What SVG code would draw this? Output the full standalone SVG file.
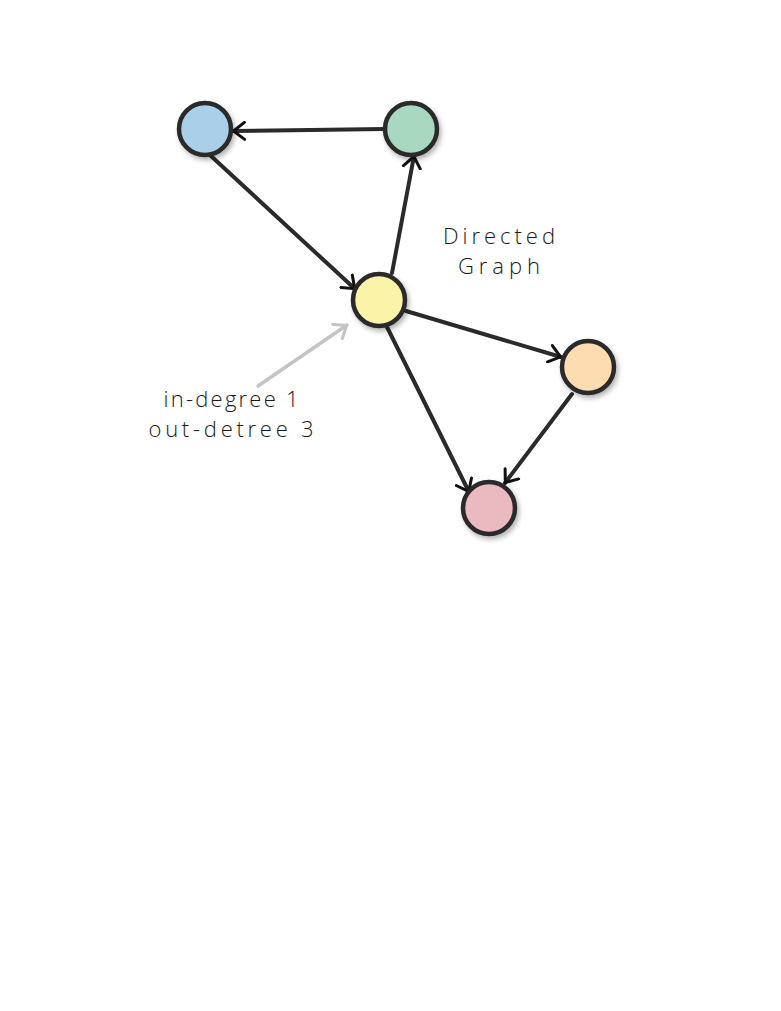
<svg xmlns="http://www.w3.org/2000/svg" width="781" height="1011" viewBox="0 0 781 1011">
<style>
.node{stroke:#2a2a2a;stroke-width:4.5;filter:url(#sh)}
.edge{stroke:#2a2a2a;stroke-width:4;fill:none;stroke-linecap:round;marker-end:url(#ah)}
.note{stroke:#c4c4c4;stroke-width:3.5;fill:none;stroke-linecap:round;marker-end:url(#ahg)}
.lbl{font-family:"Open Sans","DejaVu Sans",sans-serif;font-weight:300;font-size:22px;fill:#1a1a1a;text-anchor:middle}
</style>
<defs>
<filter id="sh" x="-30%" y="-30%" width="160%" height="160%">
<feDropShadow dx="2" dy="3" stdDeviation="2.5" flood-color="#000" flood-opacity="0.3"/>
</filter>
<marker id="ah" viewBox="0 0 14 20" refX="13" refY="10" markerWidth="14" markerHeight="20" markerUnits="userSpaceOnUse" orient="auto">
<path d="M1.5,1.5 L12.5,10 L1.5,18.5" fill="none" stroke="#111" stroke-width="3" stroke-linecap="round"/>
</marker>
<marker id="ahg" viewBox="0 0 14 20" refX="13" refY="10" markerWidth="14" markerHeight="20" markerUnits="userSpaceOnUse" orient="auto">
<path d="M1.5,1.5 L12.5,10 L1.5,18.5" fill="none" stroke="#c4c4c4" stroke-width="3" stroke-linecap="round"/>
</marker>
</defs>
<rect width="781" height="1011" fill="#fff"/>
<g id="connectors">
<path class="edge" d="M385,129 L233,131"/>
<path class="edge" d="M211,156 L355,289"/>
<path class="edge" d="M392,273 L414,156"/>
<path class="edge" d="M406,311 L561,357"/>
<path class="edge" d="M387,327 L469,492"/>
<path class="edge" d="M572,394 L505,483"/>
<path class="note" d="M258,386 L347,325"/>
</g>
<g id="node-blue"><circle class="node" cx="205" cy="129" r="26" fill="#a9cfe9"/></g>
<g id="node-green"><circle class="node" cx="411" cy="129" r="26" fill="#a8d9c0"/></g>
<g id="node-yellow"><circle class="node" cx="379" cy="300" r="26" fill="#fbf3a8"/></g>
<g id="node-orange"><circle class="node" cx="588" cy="367" r="26" fill="#fedcb2"/></g>
<g id="node-pink"><circle class="node" cx="489" cy="508" r="26" fill="#ebbac1"/></g>
<g id="title">
<text class="lbl" x="499" y="244" textLength="112" lengthAdjust="spacing">Directed</text>
<text class="lbl" x="499" y="274" textLength="82" lengthAdjust="spacing">Graph</text>
</g>
<g id="note">
<text class="lbl" x="231" y="407" textLength="135" lengthAdjust="spacing">in-degree 1</text>
<text class="lbl" x="231" y="437" textLength="165" lengthAdjust="spacing">out-detree 3</text>
</g>
</svg>
